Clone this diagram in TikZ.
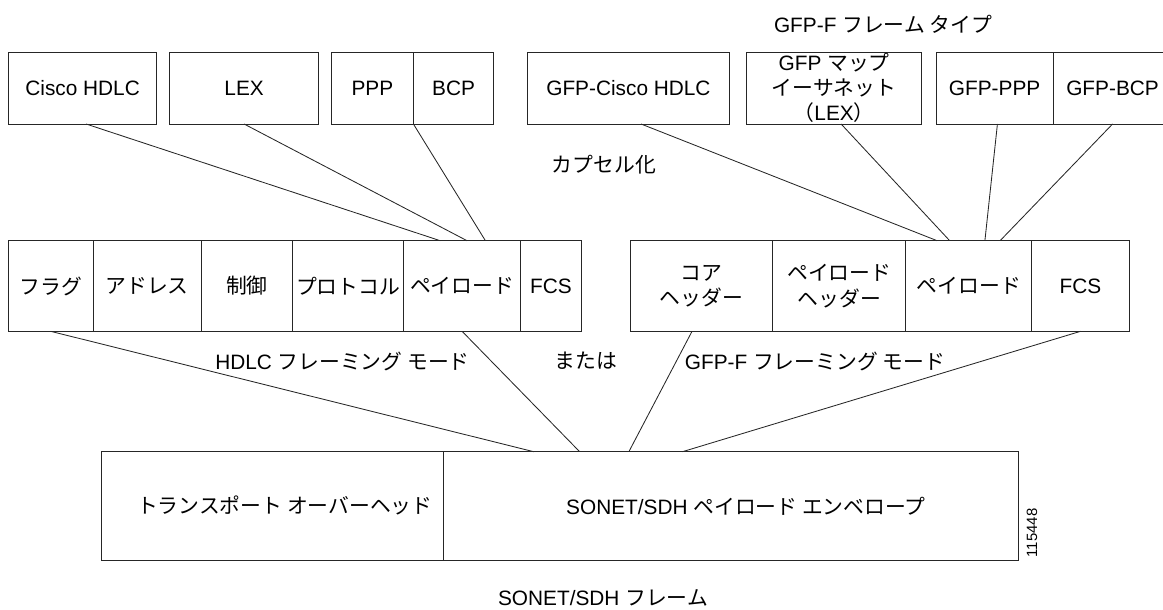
\documentclass[tikz,border=0pt]{standalone}
\usepackage{fontspec}
\setmainfont{Liberation Sans}
\newfontfamily\jp{Noto Sans CJK JP}
\usetikzlibrary{positioning,calc}

\begin{document}
\begin{tikzpicture}[x=0.025cm,y=-0.025cm,
  cell/.style={draw=black!85,line width=0.7pt,inner sep=0pt,outer sep=0pt,
    align=center,font=\fontsize{14.8}{18}\selectfont},
  jcell/.style={cell,font=\fontsize{14.8}{18}\selectfont\jp},
  toprow/.style={minimum height=1.8cm},
  hrow/.style={minimum height=2.265cm},
  srow/.style={minimum height=2.71cm},
  lbl/.style={inner sep=0pt,font=\fontsize{14.8}{18}\selectfont},
  link/.style={draw=black!85,line width=0.6pt}]
\useasboundingbox (0,0) rectangle (1163,610);

%frame types
\node[cell,toprow,minimum width=3.71cm,anchor=north west] (cisco) at (8.4,52) {Cisco HDLC};
\node[cell,toprow,minimum width=3.71cm,anchor=north west] (lex) at (169.9,52) {LEX};
\node[cell,toprow,minimum width=2.05cm,anchor=north west] (ppp) at (331.4,52) {PPP};
\node[cell,toprow,minimum width=2.01cm,right=0pt of ppp] (bcp) {BCP};

\node[cell,toprow,minimum width=5.055cm,anchor=north west] (gfphdlc) at (527.3,52) {GFP-Cisco HDLC};
\node[cell,toprow,minimum width=4.37cm,anchor=north west] (gfplex) at (746.7,52)
  {GFP {\jp マップ}\\{\jp イーサネット}\\{\jp （}LEX{\jp ）}};
\node[cell,toprow,minimum width=2.92cm,anchor=north west] (gfpppp) at (936.2,52) {GFP-PPP};
\node[cell,toprow,minimum width=2.975cm,right=0pt of gfpppp] (gfpbcp) {GFP-BCP};

%HDLC framing
\node[jcell,hrow,minimum width=2.115cm,anchor=north west] (flag) at (8.4,240.7) {フラグ};
\node[jcell,hrow,minimum width=2.70cm,right=0pt of flag] (addr) {アドレス};
\node[jcell,hrow,minimum width=2.295cm,right=0pt of addr] (ctrl) {制御};
\node[jcell,hrow,minimum width=2.765cm,right=0pt of ctrl] (proto) {プロトコル};
\node[jcell,hrow,minimum width=2.93cm,right=0pt of proto] (pay) {ペイロード};
\node[cell,hrow,minimum width=1.51cm,right=0pt of pay] (fcs) {FCS};

%GFP-F framing
\node[jcell,hrow,minimum width=3.57cm,anchor=north west] (core) at (630,240.7) {コア\\ヘッダー};
\node[jcell,hrow,minimum width=3.32cm,right=0pt of core] (phdr) {ペイロード\\ヘッダー};
\node[jcell,hrow,minimum width=3.155cm,right=0pt of phdr] (gpay) {ペイロード};
\node[cell,hrow,minimum width=2.43cm,right=0pt of gpay] (gfcs) {FCS};

%SONET/SDH frame
\node[jcell,srow,minimum width=8.55cm,anchor=north west] (toh) at (101.8,451.7) {\hspace{0.6cm}トランスポート オーバーヘッド};
\node[cell,srow,minimum width=14.35cm,right=0pt of toh] (spe) {\hspace{0.75cm}SONET/SDH {\jp ペイロード エンベロープ}};

%encapsulation
\draw[link] ($(cisco.south)+(3.5,0)$) -- ($(pay.north)+(-21.9,0)$);
\draw[link] (lex.south) -- ($(pay.north)+(4.9,0)$);
\draw[link] (ppp.south east) -- ($(pay.north)+(23.3,0)$);
\draw[link] ($(gfphdlc.south)+(12.7,0)$) -- ($(gpay.north)+(-31.7,0)$);
\draw[link] ($(gfplex.south)+(7,0)$) -- ($(gpay.north)+(-19.1,0)$);
\draw[link] ($(gfpppp.south)+(2.8,0)$) -- ($(gpay.north)+(16.1,0)$);
\draw[link] (gfpbcp.south) -- ($(gpay.north)+(31.3,0)$);

%framing into SPE
\draw[link] (flag.south) -- ($(spe.north)+(-197.2,0)$);
\draw[link] (pay.south) -- ($(spe.north)+(-151.3,0)$);
\draw[link] ($(core.south)+(-9.4,0)$) -- ($(spe.north)+(-102.1,0)$);
\draw[link] (gfcs.south) -- ($(spe.north)+(-48.5,0)$);

%labels
\node[lbl] (fttitle) at (883,24) {GFP-F {\jp フレーム タイプ}};
\node[lbl] (encap) at (604,165) {\jp カプセル化};
\node[lbl] (hdlcmode) at (342.5,361.7) {HDLC {\jp フレーミング モード}};
\node[lbl] (orlbl) at (586,361) {\jp または};
\node[lbl] (gfpmode) at (815,361.7) {GFP-F {\jp フレーミング モード}};
\node[lbl] (sonetframe) at (603,598) {SONET/SDH {\jp フレーム}};
\node[lbl,rotate=90,font=\fontsize{10.6}{12}\selectfont] (figno) at (1032,533) {115448};
\end{tikzpicture}
\end{document}
